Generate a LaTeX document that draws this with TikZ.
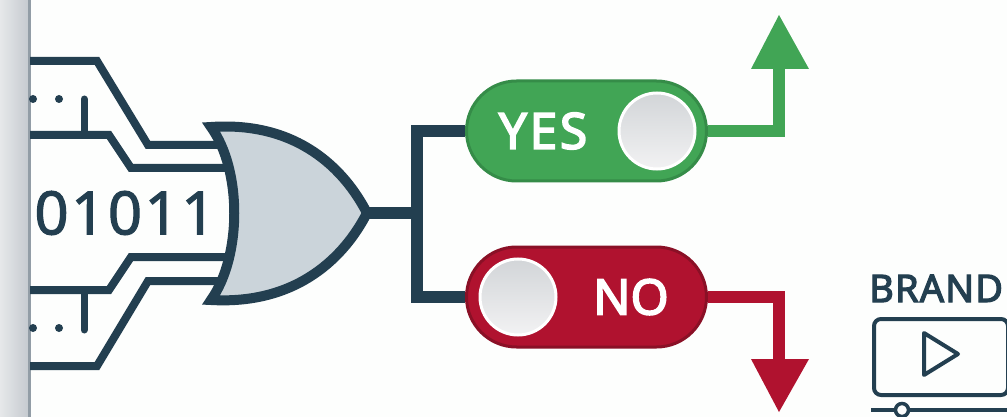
\documentclass[tikz,border=0pt]{standalone}
\usepackage{fontspec}
\setmainfont{Noto Sans}
\newfontfamily\heavyfam[FakeBold=3.2]{Noto Sans}
\newfontfamily\yesfam[FakeBold=3.2,LetterSpace=5]{Noto Sans}
\newfontfamily\brandfam[FakeBold=3.2,LetterSpace=3]{Noto Sans}
\newfontfamily\midfam[FakeBold=1.7,LetterSpace=4]{Noto Sans}
\usetikzlibrary{shapes.misc}
\definecolor{inkdark}{HTML}{233F50}
\definecolor{gatefill}{HTML}{CBD4DA}
\definecolor{yesfill}{HTML}{41A555}
\definecolor{yesrim}{HTML}{358C48}
\definecolor{nofill}{HTML}{B0122F}
\definecolor{norim}{HTML}{8A1026}
\definecolor{paper}{HTML}{FDFEFD}
\definecolor{barlight}{HTML}{E6E8EA}
\definecolor{bardark}{HTML}{C6CBD0}
\definecolor{barline}{HTML}{929DA6}
\definecolor{knobtop}{HTML}{D2D5D8}
\definecolor{knobbot}{HTML}{F2F2F3}
\tikzset{
  wire/.style={draw=inkdark,line width=8pt},
  trunk/.style={draw=inkdark,line width=11.5pt},
  stub/.style={draw=inkdark,line width=7pt,line cap=round},
  dotmark/.style={circle,fill=inkdark,inner sep=0pt,minimum size=8pt},
  pill/.style={rounded rectangle,line width=3pt,minimum width=240pt,minimum height=100pt,inner sep=0pt,outer sep=1.5pt},
  knob/.style={circle,draw=white,line width=3pt,minimum size=76pt,inner sep=0pt,top color=knobtop,bottom color=knobbot},
  pilltext/.style={text=white,inner sep=0pt},
  yesline/.style={draw=yesfill,line width=12.5pt},
  noline/.style={draw=nofill,line width=12.5pt},
}
\begin{document}
\begin{tikzpicture}[x=1pt,y=-1pt]
\useasboundingbox (0,0) rectangle (1007,417);
\clip (0,0) rectangle (1007,417);
\fill[paper] (0,0) rectangle (1007,417);
% left bar
\shade[left color=barlight,right color=bardark] (0,0) rectangle (28,417);
\fill[barline] (27.5,0) rectangle (31,417);
% anchors
\coordinate (w1s) at (30,61);
\coordinate (w2s) at (30,135);
\coordinate (w3s) at (30,290);
\coordinate (w4s) at (30,366);
\coordinate (w1e) at (225,145);
\coordinate (w2e) at (232,168);
\coordinate (w3e) at (232,257);
\coordinate (w4e) at (225,281);
\coordinate (tip) at (367,213);
\coordinate (fork) at (417,213);
% wires
\draw[wire] (w1s) -- (97,61) -- (148,145) -- (w1e);
\draw[wire] (w2s) -- (109,135) -- (131,168) -- (w2e);
\draw[wire] (w3s) -- (109,290) -- (131,257) -- (w3e);
\draw[wire] (w4s) -- (97,366) -- (148,281) -- (w4e);
\coordinate (s1t) at (84,99);
\coordinate (s1b) at (84,135);
\coordinate (s2t) at (84,330);
\coordinate (s2b) at (84,290);
\draw[stub] (s1t) -- (s1b);
\draw[stub] (s2t) -- (s2b);
\node[dotmark] (d1) at (59,99) {};
\node[dotmark] (d2) at (33,99) {};
\node[dotmark] (d3) at (59,328) {};
\node[dotmark] (d4) at (33,328) {};
% gate
\draw[draw=inkdark,fill=gatefill,line width=10pt,line join=miter,miter limit=10]
  (211,127) .. controls (298,121) and (345,170) .. (tip)
  .. controls (345,256) and (298,305) .. (211,300)
  .. controls (242,256) and (242,170) .. cycle;
\node[font=\midfam\fontsize{60}{60}\selectfont,text=inkdark,inner sep=0pt] (bits) at (125,213) {01011};
% pills
\node[pill,draw=yesrim,fill=yesfill] (yes) at (586.5,131) {};
\node[pill,draw=norim,fill=nofill] (no) at (586.5,297) {};
\node[knob] (yk) at (657,131) {};
\node[knob] (nk) at (518,297) {};
\node[pilltext,font=\yesfam\fontsize{50}{50}\selectfont] (yt) at (543,131) {YES};
\node[pilltext,font=\heavyfam\fontsize{49}{49}\selectfont] (nt) at (631,297) {NO};
% trunk
\draw[trunk] (tip) -- (fork);
\draw[trunk,line join=miter] (yes.west) -- (417,131) -- (fork) -- (417,297) -- (no.west);
% outputs
\coordinate (ya) at (779,69);
\coordinate (na) at (779,360);
\draw[yesline] (yes.east) -- (779,131) -- (ya);
\draw[noline] (no.east) -- (779,297) -- (na);
\fill[yesfill] (751,69) -- (779,15) -- (809,69) -- cycle;
\fill[nofill] (751,359) -- (779,412) -- (809,359) -- cycle;
% brand
\node[anchor=base west,inner sep=0pt,font=\brandfam\fontsize{38}{38}\selectfont,text=inkdark] (brand) at (869,302) {BRAND};
\node[draw=inkdark,line width=4pt,rounded corners=7pt,minimum width=134pt,minimum height=76pt,inner sep=0pt,anchor=north west] (screen) at (872,317) {};
\draw[inkdark,line width=4pt,line join=round] (924,333) -- (958,354) -- (924,375) -- cycle;
\node[circle,draw=inkdark,fill=paper,line width=3.5pt,minimum size=13pt,inner sep=0pt] (thumb) at (902,410) {};
\coordinate (sl) at (871,410);
\coordinate (sr) at (1007,410);
\draw[inkdark,line width=3.5pt] (sl) -- (thumb) (thumb) -- (sr);
\end{tikzpicture}
\end{document}
